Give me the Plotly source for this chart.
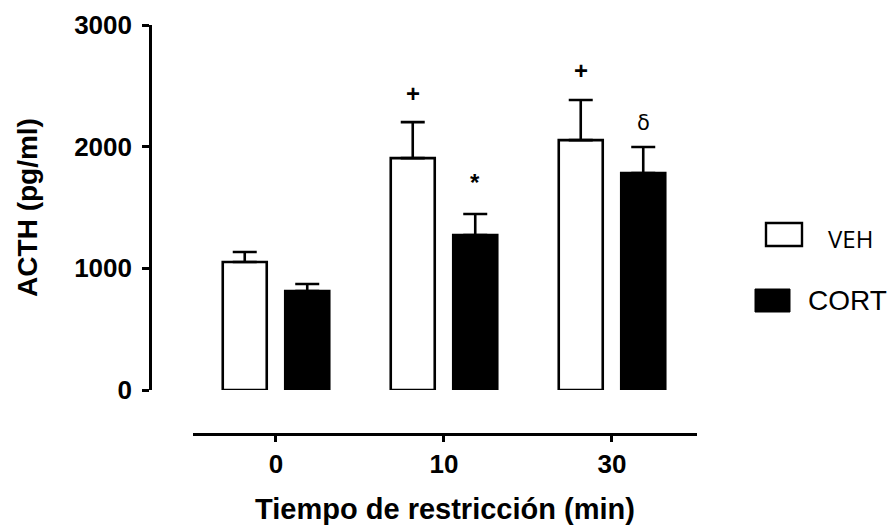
import plotly.graph_objects as go

# ---- data ----
categories = ["0", "10", "30"]
veh_values = [1052, 1906, 2054]
veh_err = [82, 296, 329]
cort_values = [813, 1274, 1783]
cort_err = [58, 172, 214]
series_names = ["VEH", "CORT"]
veh_marks = ["", "+", "+"]
cort_marks = ["", "*", "δ"]
y_ticks = [0, 1000, 2000, 3000]

W, H = 892, 525
def px_x(p):
    return p / W
def px_y(p):
    return (H - p) / H

FONT = "Liberation Sans, Arial, Helvetica, sans-serif"

fig = go.Figure()
fig.add_trace(go.Bar(
    x=categories, y=veh_values, name=series_names[0],
    marker=dict(color="white", line=dict(color="black", width=2.6)),
    error_y=dict(type="data", array=veh_err, arrayminus=[0] * len(veh_err),
                 symmetric=False, color="black", thickness=2.6, width=12),
    showlegend=False,
))
fig.add_trace(go.Bar(
    x=categories, y=cort_values, name=series_names[1],
    marker=dict(color="black", line=dict(color="black", width=2.6)),
    error_y=dict(type="data", array=cort_err, arrayminus=[0] * len(cort_err),
                 symmetric=False, color="black", thickness=2.6, width=12),
    showlegend=False,
))

# significance marks above error bars
off = 31.25 / 168.0
ann = []
shifts_veh = [0, 29, 30]
shifts_cort = [0, 32, 24]
for i, c in enumerate(categories):
    if veh_marks[i]:
        ann.append(dict(x=i - off, y=veh_values[i] + veh_err[i], xref="x", yref="y",
                        text=veh_marks[i], showarrow=False, yanchor="middle",
                        yshift=shifts_veh[i],
                        font=dict(family=FONT, size=24, color="black", weight="bold")))
    if cort_marks[i]:
        bold = cort_marks[i] != "δ"
        ann.append(dict(x=i + off, y=cort_values[i] + cort_err[i], xref="x", yref="y",
                        text=cort_marks[i], showarrow=False, yanchor="middle",
                        yshift=shifts_cort[i],
                        font=dict(family=FONT if bold else "DejaVu Sans", size=24 if bold else 21,
                                  color="black", weight="bold" if bold else "normal")))

# legend (drawn manually)
ann.append(dict(x=px_x(826), y=px_y(238), xref="paper", yref="paper", text=series_names[0],
                showarrow=False, xanchor="left", yanchor="middle",
                font=dict(family="Open Sans", size=24, color="black")))
ann.append(dict(x=px_x(806), y=px_y(301), xref="paper", yref="paper", text=series_names[1],
                showarrow=False, xanchor="left", yanchor="middle",
                font=dict(family=FONT, size=28, color="black")))
shapes = [
    dict(type="rect", xref="paper", yref="paper", x0=px_x(766), x1=px_x(802),
         y0=px_y(246), y1=px_y(223), line=dict(color="black", width=2.4), fillcolor="white"),
    dict(type="rect", xref="paper", yref="paper", x0=px_x(755), x1=px_x(790),
         y0=px_y(312), y1=px_y(289), line=dict(color="black", width=1), fillcolor="black"),
]

fig.update_layout(
    width=W, height=H, autosize=False,
    margin=dict(l=0, r=0, t=0, b=0),
    paper_bgcolor="white", plot_bgcolor="white",
    barmode="group", bargap=0.256, bargroupgap=0.296,
    annotations=ann, shapes=shapes, showlegend=False,
    xaxis=dict(
        type="category", domain=[px_x(193), px_x(697)], range=[-0.494, 2.506],
        anchor="free", position=px_y(434),
        showline=True, linecolor="black", linewidth=2.6,
        ticks="outside", ticklen=6, tickwidth=2.6, tickcolor="black",
        showgrid=False, zeroline=False,
        tickfont=dict(family=FONT, size=26, color="black", weight="bold"),
        title=dict(text="Tiempo de restricción (min)", standoff=24,
                   font=dict(family=FONT, size=29, color="black", weight="bold")),
        automargin=False,
    ),
    yaxis=dict(
        domain=[px_y(390), px_y(25)], range=[0, 3000],
        anchor="free", position=px_x(150),
        tickvals=y_ticks, ticktext=[str(v) for v in y_ticks],
        showline=True, linecolor="black", linewidth=2.6,
        ticks="outside", ticklen=7, tickwidth=2.6, tickcolor="black",
        ticklabelstandoff=5,
        showgrid=False, zeroline=False,
        tickfont=dict(family=FONT, size=26, color="black", weight="bold"),
        title=dict(text="ACTH (pg/ml)", standoff=27,
                   font=dict(family=FONT, size=28, color="black", weight="bold")),
        automargin=False,
    ),
)

fig.write_html("out.html")
